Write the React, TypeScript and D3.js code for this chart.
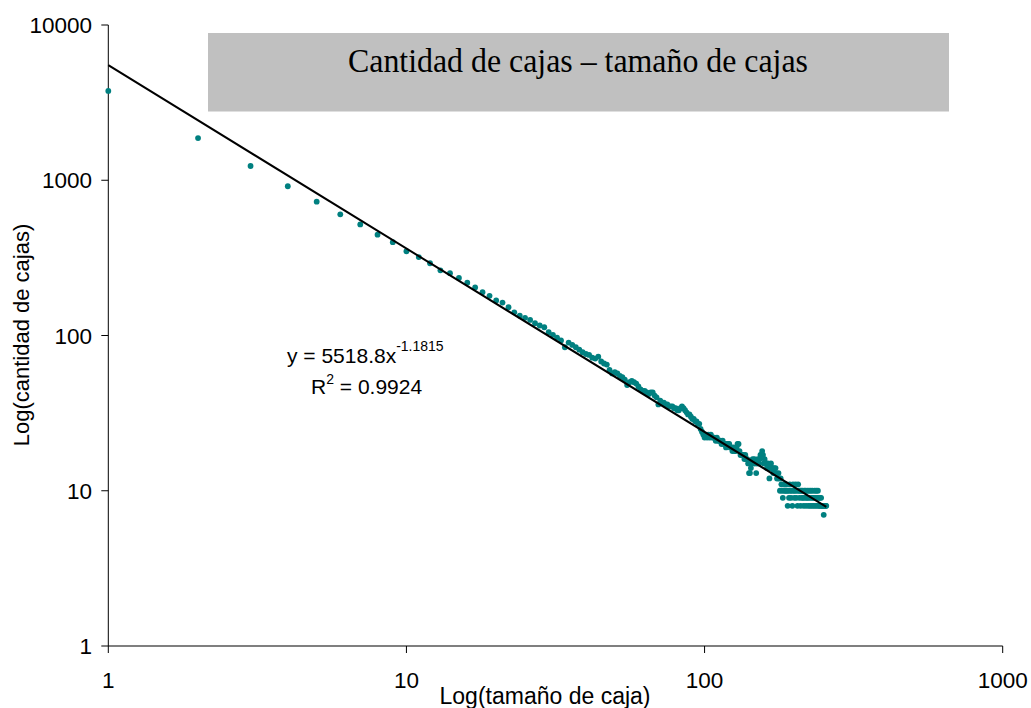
import React from 'react';
import * as d3 from 'd3';

// box counts, one per box size (1..256)
const boxCounts = [
  3760, 1870, 1235, 915, 728, 603, 519, 446, 399, 349,
  320, 292, 263, 252, 235, 219, 204, 190, 180, 168,
  163, 152, 141, 134, 130, 126, 120, 116, 113, 105,
  101, 97, 93, 84, 90, 87, 84, 81, 78, 76,
  75, 72, 71, 73, 68, 66, 65, 60, 57, 58,
  57, 55, 54, 52, 48, 50, 51, 50, 49, 47,
  45, 44, 44, 43, 42, 43, 43, 41, 40, 36,
  38, 37, 37, 36, 36, 35, 35, 35, 34, 34,
  33, 33, 34, 35, 34, 33, 32, 31, 31, 30,
  29, 29, 28, 28, 27, 27, 25, 24, 23, 22,
  23, 22, 23, 22, 23, 22, 22, 22, 21, 22,
  21, 21, 21, 20, 21, 20, 20, 19, 20, 20,
  20, 19, 19, 18, 19, 18, 18, 19, 20, 20,
  18, 17, 17, 17, 17, 16, 17, 16, 16, 15,
  13, 13, 14, 15, 16, 15, 16, 15, 13, 15,
  16, 15, 16, 17, 17, 18, 17, 15, 16, 15,
  15, 14, 15, 14, 12, 14, 15, 14, 14, 13,
  14, 13, 14, 13, 12, 12, 13, 12, 10, 12,
  11, 10, 9, 11, 10, 11, 10, 11, 10, 8,
  10, 9, 11, 10, 9, 10, 8, 11, 10, 9,
  10, 11, 9, 10, 8, 11, 10, 9, 10, 8,
  10, 9, 10, 9, 8, 10, 9, 10, 8, 9,
  10, 9, 8, 10, 9, 8, 10, 9, 8, 10,
  9, 8, 9, 10, 8, 9, 10, 8, 9, 10,
  8, 9, 8, 9, 8, 9, 8, 8, 8, 8,
  7, 8, 8, 8, 8, 8,
];
const boxSizes = boxCounts.map((_, i) => i + 1);

const xTicks = [1, 10, 100, 1000];
const yTicks = [1, 10, 100, 1000, 10000];

// power trendline shown on the chart
const trendA = 5518.8;
const trendB = -1.1815;
const trendR2 = '0.9924';

const title = 'Cantidad de cajas \u2013 tamaño de cajas';
const xTitle = 'Log(tamaño de caja)';
const yTitle = 'Log(cantidad de cajas)';

export default function App() {
  const W = 1031;
  const H = 708;
  const left = 108.3, right = 1002.7, top = 25, bottom = 646;

  const x = d3.scaleLog().domain([1, 1000]).range([left, right]);
  const y = d3.scaleLog().domain([1, 10000]).range([bottom, top]);

  const ext = d3.extent(boxSizes) as [number, number];
  const trend = d3.line<number>()
    .x(d => x(d))
    .y(d => y(trendA * Math.pow(d, trendB)));

  const sans = 'Arial, "Liberation Sans", sans-serif';
  const serif = '"Times New Roman", "Liberation Serif", serif';

  return (
    <svg width={W} height={H} style={{position: 'absolute', left: 0, top: 0}}>
      <rect x={0} y={0} width={W} height={H} fill="#fff" />

      {/* title box */}
      <rect x={208} y={33} width={741} height={78.5} fill="#c0c0c0" />
      <text x={578} y={72} textAnchor="middle" fontFamily={serif} fontSize={34}
        textLength={460} lengthAdjust="spacingAndGlyphs" fill="#000">{title}</text>

      {/* axes */}
      <line x1={left} x2={left} y1={top} y2={bottom} stroke="#000" strokeWidth={1} />
      <line x1={left} x2={right} y1={bottom} y2={bottom} stroke="#000" strokeWidth={1.2} />
      {yTicks.map(t => (
        <g key={'y' + t}>
          <line x1={left - 7} x2={left} y1={y(t)} y2={y(t)} stroke="#000" />
          <text x={92} y={y(t)} dy="0.36em" textAnchor="end" fontFamily={sans} fontSize={22.5}>{t}</text>
        </g>
      ))}
      {xTicks.map(t => (
        <g key={'x' + t}>
          <line x1={x(t)} x2={x(t)} y1={bottom} y2={bottom + 7} stroke="#000" />
          <text x={x(t)} y={688} textAnchor="middle" fontFamily={sans} fontSize={22.5}>{t}</text>
        </g>
      ))}

      {/* points */}
      <g fill="#008080">
        {boxSizes.map((s, i) => (
          <circle key={s} cx={x(s)} cy={y(boxCounts[i])} r={2.9} />
        ))}
      </g>

      {/* trendline */}
      <path d={trend(ext) || ''} fill="none" stroke="#000" strokeWidth={2} />

      {/* equation */}
      <text x={287} y={363} fontFamily={sans} fontSize={21}>
        y = {trendA}x<tspan dy={-12} fontSize={14}>{trendB}</tspan>
      </text>
      <text x={311} y={394} fontFamily={sans} fontSize={21}>
        R<tspan dy={-10} fontSize={14}>2</tspan><tspan dy={10}> = {trendR2}</tspan>
      </text>

      {/* axis titles */}
      <text x={545} y={704} textAnchor="middle" fontFamily={sans} fontSize={23}>{xTitle}</text>
      <text transform="translate(29,335) rotate(-90)" textAnchor="middle" fontFamily={sans} fontSize={22}>{yTitle}</text>
    </svg>
  );
}
